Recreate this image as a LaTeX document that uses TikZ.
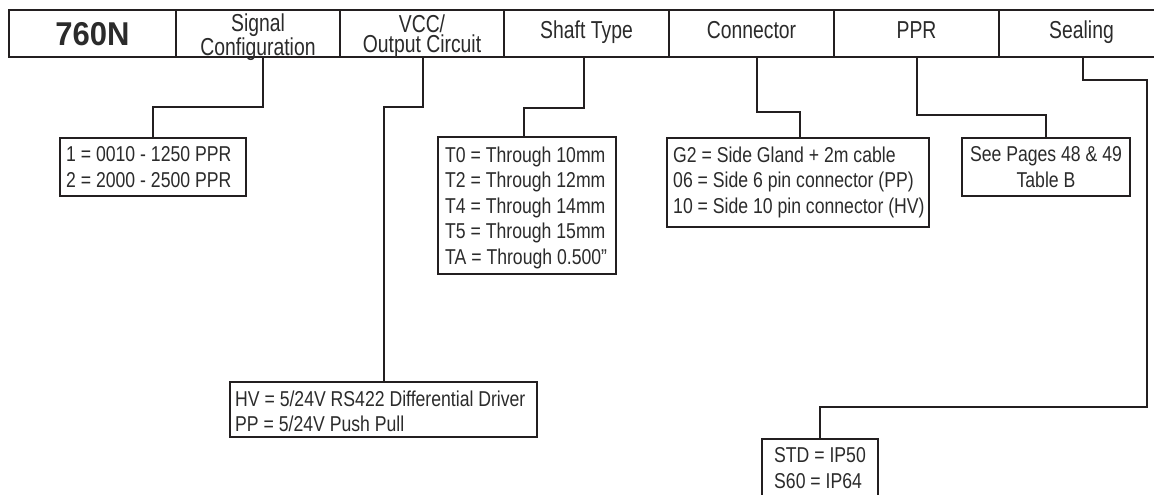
\documentclass[tikz,border=0pt]{standalone}
\usepackage{fontspec}
\setmainfont{Liberation Sans}
\newfontfamily\bodyfont[FakeStretch=0.82]{Liberation Sans}
\newfontfamily\headfont[FakeStretch=0.79]{Liberation Sans}
\newfontfamily\numfont[FakeStretch=0.94]{Liberation Sans}
\definecolor{ink}{HTML}{231F20}
\definecolor{txtc}{HTML}{2B2B2B}
\tikzset{
  cell/.style={draw=ink, line width=2pt, rectangle, inner sep=0pt, outer sep=0pt, minimum height=47pt},
  box/.style={draw=ink, line width=2pt, rectangle, inner sep=0pt, outer sep=0pt, fill=white},
  bodytxt/.style={text=txtc, inner sep=0pt, align=left, font={\bodyfont\fontsize{21.5}{25.5}\selectfont}},
  headtxt/.style={text=txtc, inner sep=0pt, align=center, font={\headfont\fontsize{24.5}{20}\selectfont}},
  link/.style={draw=ink, line width=2pt}
}
\begin{document}
\begin{tikzpicture}[x=1pt,y=-1pt]
\useasboundingbox[fill=white] (0,0) rectangle (1154,495);
% header row
\node[cell, minimum width=167pt] (c1) at (92.5,33.5) {};
\node[cell, minimum width=164pt] (c2) at (258,33.5) {};
\node[cell, minimum width=164pt] (c3) at (422,33.5) {};
\node[cell, minimum width=165pt] (c4) at (586.5,33.5) {};
\node[cell, minimum width=165pt] (c5) at (751.5,33.5) {};
\node[cell, minimum width=165pt] (c6) at (916.5,33.5) {};
\node[cell, minimum width=165pt] (c7) at (1081.5,33.5) {};
% header texts
\node[text=txtc, inner sep=0pt, anchor=base, font={\numfont\bfseries\fontsize{33}{33}\selectfont}] (t1) at (92.5,45.7) {760N};
\node[headtxt, anchor=north] (t2) at (258,14) {Signal\\Configuration};
\node[headtxt, anchor=north] (t3) at (422,15) {VCC/\\Output Circuit};
\node[headtxt, anchor=base] (t4) at (586.5,38.5) {Shaft Type};
\node[headtxt, anchor=base] (t5) at (751.5,38.5) {Connector};
\node[headtxt, anchor=base] (t6) at (916.5,38.5) {PPR};
\node[headtxt, anchor=base] (t7) at (1081.5,38.5) {Sealing};
% option boxes
\node[box, minimum width=186pt, minimum height=58pt] (sb) at (153,167) {};
\node[box, minimum width=307pt, minimum height=55pt] (hb) at (383.5,409.5) {};
\node[box, minimum width=178pt, minimum height=137pt] (tb) at (527,205.5) {};
\node[box, minimum width=262pt, minimum height=89pt] (cb) at (798,182.5) {};
\node[box, minimum width=168pt, minimum height=58pt] (pb) at (1046,167) {};
\node[box, minimum width=116pt, minimum height=60pt] (eb) at (820,469) {};
% box texts
\node[bodytxt, anchor=north west] (sbt) at ([shift={(6,8.5)}]sb.north west) {1 = 0010 - 1250 PPR\\2 = 2000 - 2500 PPR};
\node[bodytxt, anchor=north west] (hbt) at ([shift={(5,8.5)}]hb.north west) {HV = 5/24V RS422 Differential Driver\\PP = 5/24V Push Pull};
\node[bodytxt, anchor=north west] (tbt) at ([shift={(7,9.5)}]tb.north west) {T0 = Through 10mm\\T2 = Through 12mm\\T4 = Through 14mm\\T5 = Through 15mm\\TA = Through 0.500”};
\node[bodytxt, anchor=north west] (cbt) at ([shift={(6,8.5)}]cb.north west) {G2 = Side Gland + 2m cable\\06 = Side 6 pin connector (PP)\\10 = Side 10 pin connector (HV)};
\node[bodytxt, align=center, anchor=north] (pbt) at ([shift={(0,8.5)}]pb.north) {See Pages 48 \& 49\\Table B};
\node[bodytxt, anchor=north west] (ebt) at ([shift={(12,8.5)}]eb.north west) {STD = IP50\\S60 = IP64};
% connectors
\draw[link] ([xshift=5pt]c2.south) -- ++(0,50) -| (sb.north);
\draw[link] ([xshift=1pt]c3.south) -- ++(0,50) -| (hb.north);
\draw[link] ([xshift=-2.5pt]c4.south) -- ++(0,51) -| ([xshift=-3pt]tb.north);
\draw[link] ([xshift=5.5pt]c5.south) -- ++(0,55) -| ([xshift=2pt]cb.north);
\draw[link] (c6.south) -- ++(0,58) -| (pb.north);
\coordinate (s1) at (1147,80);
\coordinate (s2) at (1147,407);
\draw[link] ([xshift=1.5pt]c7.south) |- (s1) -- (s2) -| (eb.north);
\end{tikzpicture}
\end{document}
